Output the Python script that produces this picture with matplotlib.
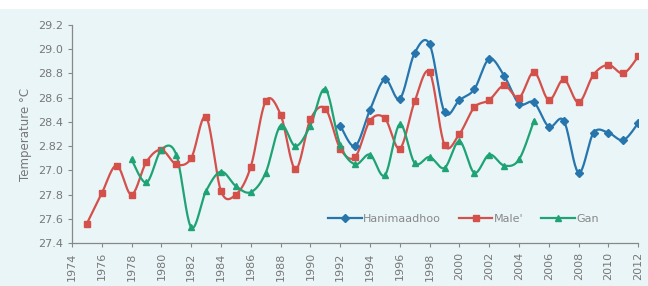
import numpy as np
import matplotlib
matplotlib.use("Agg")
import matplotlib.pyplot as plt
from matplotlib.patches import Rectangle

# ---- data (values placed on the chart's linear axis positions) ----
years_han = list(range(1992, 2013))
han = [28.37, 28.20, 28.50, 28.75, 28.59, 28.97, 29.04, 28.48, 28.58, 28.67,
       28.92, 28.78, 28.55, 28.56, 28.36, 28.41, 27.98, 28.31, 28.31, 28.25, 28.39]

years_male = list(range(1975, 2013))
male = [27.56, 27.81, 28.04, 27.80, 28.07, 28.17, 28.05, 28.10, 28.44, 27.83,
        27.80, 28.03, 28.57, 28.46, 28.01, 28.42, 28.51, 28.18, 28.11, 28.41,
        28.43, 28.18, 28.57, 28.81, 28.21, 28.30, 28.52, 28.58, 28.70, 28.60,
        28.81, 28.58, 28.75, 28.56, 28.79, 28.87, 28.80, 28.94]

years_gan = list(range(1978, 2006))
gan = [28.09, 27.90, 28.17, 28.13, 27.53, 27.83, 27.99, 27.87, 27.82, 27.98,
       28.37, 28.20, 28.37, 28.67, 28.21, 28.05, 28.13, 27.96, 28.38, 28.06,
       28.11, 28.02, 28.24, 27.98, 28.13, 28.04, 28.09, 28.41]

ytick_pos = [27.4, 27.6, 27.8, 28.0, 28.2, 28.4, 28.6, 28.8, 29.0, 29.2]
ytick_labels = ["27.4", "27.6", "27.8", "27.0", "2.82", "28.4", "28.6", "28.8", "29.0", "29.2"]
xticks = list(range(1974, 2013, 2))

series = [("Hanimaadhoo", years_han, han, "#2676ad", "D"),
          ("Male'", years_male, male, "#d4504b", "s"),
          ("Gan", years_gan, gan, "#1fa374", "^")]


def smooth(x, y, n=20):
    x = np.asarray(x, float)
    y = np.asarray(y, float)
    P = np.column_stack([x, y])
    out = []
    for i in range(len(P) - 1):
        p0 = P[i - 1] if i > 0 else P[i]
        p1 = P[i]
        p2 = P[i + 1]
        p3 = P[i + 2] if i + 2 < len(P) else P[i + 1]
        c1 = p1 + (p2 - p0) / 6.0
        c2 = p2 - (p3 - p1) / 6.0
        t = np.linspace(0, 1, n, endpoint=(i == len(P) - 2))[:, None]
        seg = ((1 - t) ** 3) * p1 + 3 * ((1 - t) ** 2) * t * c1 + 3 * (1 - t) * t ** 2 * c2 + t ** 3 * p2
        out.append(seg)
    S = np.vstack(out)
    return S[:, 0], S[:, 1]


bg = "#eaf5f8"
fig = plt.figure(figsize=(6.48, 2.86), dpi=100, facecolor=bg)
fig.patches.append(Rectangle((0, 1 - 9 / 286), 1, 9 / 286, transform=fig.transFigure,
                             facecolor="white", edgecolor="none", zorder=-1))
ax = fig.add_axes([0.111, 0.150, 0.874, 0.763])
ax.set_facecolor(bg)

for name, xs, ys, col, mk in series:
    sx, sy = smooth(xs, ys)
    ms = 5 if mk != "D" else 4.2
    ax.plot(sx, sy, color=col, lw=1.6, zorder=2)
    ax.plot(xs, ys, ls="none", marker=mk, color=col, ms=ms, zorder=3)
    ax.plot([], [], color=col, lw=1.6, marker=mk, ms=ms - 0.5, label=name)

ax.set_xlim(1974, 2012)
ax.set_ylim(27.4, 29.2)
ax.set_xticks(xticks)
ax.set_xticklabels([str(v) for v in xticks], rotation=90)
ax.set_yticks(ytick_pos)
ax.set_yticklabels(ytick_labels)
ax.tick_params(colors="#888888", labelcolor="#777777", labelsize=8, length=3, width=0.8)
for s in ["top", "right"]:
    ax.spines[s].set_visible(False)
for s in ["left", "bottom"]:
    ax.spines[s].set_color("#888888")
    ax.spines[s].set_linewidth(0.9)
ax.set_ylabel("Temperature °C", color="#777777", fontsize=8.5)

leg = ax.legend(loc="lower left", bbox_to_anchor=(0.435, 0.04), ncol=3, frameon=False,
                fontsize=8, handlelength=3.0, columnspacing=1.6, handletextpad=0.15)
for t in leg.get_texts():
    t.set_color("#888888")

fig.savefig("out.png", dpi=100, facecolor=bg)
